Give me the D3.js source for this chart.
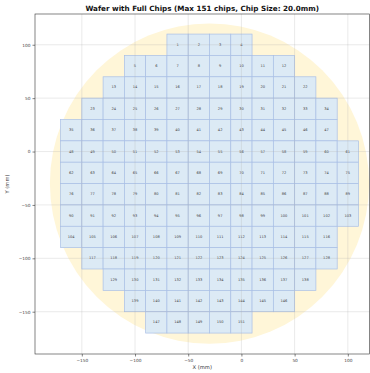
<!DOCTYPE html>
<html>
<head>
<meta charset="utf-8">
<script src="https://cdn.jsdelivr.net/npm/d3@7"></script>
<style>
  body { margin: 0; background: #fff; }
  svg { display: block; font-family: "DejaVu Sans", sans-serif; }
</style>
</head>
<body>
<div id="chart"></div>
<script>
// wafer layout (mm)
const chipSize = 20;
const waferCenter = [-30, -30];
const waferRadius = 150;
// each row of chips: bottom edge y, left edge x of first chip, chip count
const rowBottom = [90, 70, 50, 30, 10, -10, -30, -50, -70, -90, -110, -130, -150, -170];
const rowStartX = [-70, -110, -130, -150, -170, -170, -170, -170, -170, -170, -150, -130, -110, -90];
const rowCount = [4, 8, 10, 12, 13, 14, 14, 14, 14, 13, 12, 10, 8, 5];
const xTicks = [-150, -100, -50, 0, 50, 100];
const yTicks = [100, 50, 0, -50, -100, -150];

const width = 370, height = 373;
const plot = {left: 35, right: 369.5, top: 14, bottom: 354};

const chips = [];
let n = 1;
rowBottom.forEach((y, i) => {
    for (let k = 0; k < rowCount[i]; k++) {
        chips.push({id: n++, x: rowStartX[i] + k * chipSize, y: y});
    }
});

const x = d3.scaleLinear().domain([-194, 120]).range([plot.left, plot.left + 334.1]);
const y = d3.scaleLinear().domain([128.8, -189.6]).range([plot.top, plot.bottom]);

const svg = d3.select("#chart").append("svg")
    .attr("width", width)
    .attr("height", height);

const fmt = d => d < 0 ? "\u2212" + Math.abs(d) : String(d);

// wafer
svg.append("ellipse")
    .attr("cx", x(waferCenter[0]))
    .attr("cy", y(waferCenter[1]))
    .attr("rx", x(waferCenter[0] + waferRadius) - x(waferCenter[0]))
    .attr("ry", y(waferCenter[1] - waferRadius) - y(waferCenter[1]))
    .attr("fill", "#fff6d8");

// chips
const g = svg.append("g");
g.selectAll("rect")
    .data(chips)
    .join("rect")
    .attr("x", d => x(d.x))
    .attr("y", d => y(d.y + chipSize))
    .attr("width", d => x(d.x + chipSize) - x(d.x))
    .attr("height", d => y(d.y) - y(d.y + chipSize))
    .attr("fill", "#dceaf5")
    .attr("stroke", "#a9bfe6")
    .attr("stroke-width", 0.7);

g.selectAll("text")
    .data(chips)
    .join("text")
    .attr("x", d => x(d.x + chipSize / 2))
    .attr("y", d => y(d.y + chipSize / 2))
    .attr("text-anchor", "middle")
    .attr("dominant-baseline", "central")
    .attr("font-size", 3.6)
    .attr("fill", "#444")
    .text(d => d.id);

// grid on top
const grid = svg.append("g").attr("stroke", "#b0b0b0").attr("stroke-opacity", 0.45).attr("stroke-width", 0.6);
xTicks.forEach(t => grid.append("line")
    .attr("x1", x(t)).attr("x2", x(t)).attr("y1", plot.top).attr("y2", plot.bottom));
yTicks.forEach(t => grid.append("line")
    .attr("x1", plot.left).attr("x2", plot.right).attr("y1", y(t)).attr("y2", y(t)));

// frame
svg.append("rect")
    .attr("x", plot.left).attr("y", plot.top)
    .attr("width", plot.right - plot.left).attr("height", plot.bottom - plot.top)
    .attr("fill", "none").attr("stroke", "#333").attr("stroke-width", 0.6);

const xAxis = svg.append("g")
    .attr("transform", `translate(0, ${plot.bottom})`)
    .call(d3.axisBottom(x).tickValues(xTicks).tickFormat(fmt).tickSize(2.5).tickPadding(2));
const yAxis = svg.append("g")
    .attr("transform", `translate(${plot.left}, 0)`)
    .call(d3.axisLeft(y).tickValues(yTicks).tickFormat(fmt).tickSize(2.5).tickPadding(2));
[xAxis, yAxis].forEach(a => {
    a.select(".domain").remove();
    a.selectAll("line").attr("stroke", "#333").attr("stroke-width", 0.6);
    a.selectAll("text").attr("font-size", 4.3).attr("fill", "#444").attr("font-family", "DejaVu Sans");
});

svg.append("text")
    .attr("x", (plot.left + plot.right) / 2)
    .attr("y", 10.5)
    .attr("text-anchor", "middle")
    .attr("font-size", 7.2)
    .attr("font-weight", "bold")
    .attr("fill", "#111")
    .text("Wafer with Full Chips (Max 151 chips, Chip Size: 20.0mm)");

svg.append("text")
    .attr("x", (plot.left + plot.right) / 2)
    .attr("y", 369)
    .attr("text-anchor", "middle")
    .attr("font-size", 5.2)
    .attr("fill", "#333")
    .text("X (mm)");

svg.append("text")
    .attr("transform", `translate(9, ${(plot.top + plot.bottom) / 2}) rotate(-90)`)
    .attr("text-anchor", "middle")
    .attr("font-size", 5.2)
    .attr("fill", "#333")
    .text("Y (mm)");
</script>
</body>
</html>
